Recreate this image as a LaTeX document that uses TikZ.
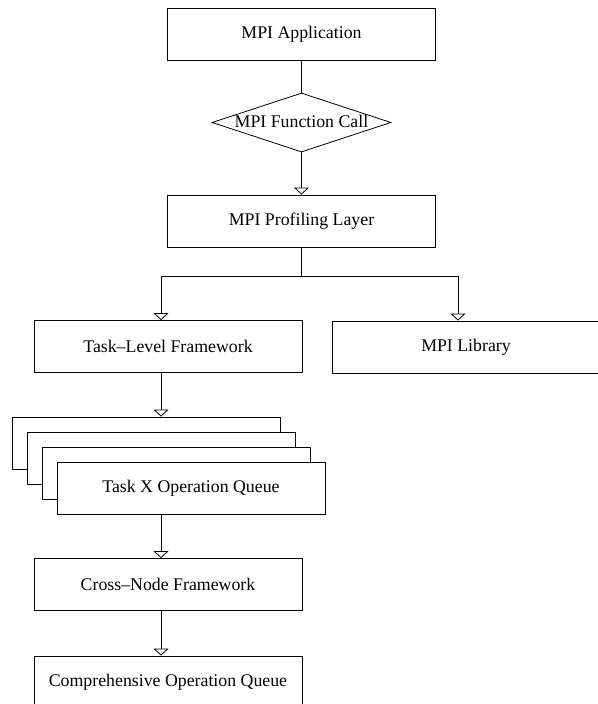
\documentclass[tikz,border=0pt]{standalone}
\usepackage{fontspec}
\setmainfont{Liberation Serif}
\usetikzlibrary{arrows.meta,shapes.geometric}

\tikzset{
    box/.style={draw, fill=white, line width=0.8pt, minimum width=268pt,
        minimum height=52pt, inner sep=0pt},
    decision/.style={draw, diamond, line width=0.8pt, minimum width=179pt,
        minimum height=59pt, inner sep=0pt},
    flow/.style={line width=0.8pt, -{Triangle[open, width=15pt, length=7pt]}},
    every node/.style={font=\fontsize{17.8}{21}\selectfont}
}

\begin{document}
\begin{tikzpicture}[x=1pt, y=-1pt]
    \useasboundingbox (0,0) rectangle (597,704);

    % top of the stack
    \node [box] (app) at (301.5,34.5) {MPI Application};
    \node [decision] (call) at (301.5,122.5) {};
    \node at (301.5,121.5) {MPI Function Call};
    \node [box] (prof) at (301.5,221) {MPI Profiling Layer};

    \draw [line width=0.8pt] (app) -- (call);
    \draw [flow] (call) -- (prof);

    % the two branches
    \node [box] (tl) at (168,346.5) {Task--Level Framework};
    \node [box] (lib) at (466,347) {MPI Library};
    \coordinate (split) at (301.5,276);
    \coordinate (spine) at (161,0);

    \draw [line width=0.8pt] (prof) -- (split);
    \draw [flow] (split) -| (tl.north -| spine);
    \draw [flow] (split) -| ([xshift=-8]lib.north);

    % one queue per task
    \foreach \i in {0,1,2} {
        \node [box] (q\i) at (146+15*\i,443+15*\i) {};
    }
    \node [box] (q3) at (191,488) {Task X Operation Queue};

    \draw [flow] (tl.south -| spine) -- (q0.north -| spine);

    % merged over all nodes
    \node [box] (cross) at (168,584.5) {Cross--Node Framework};
    \node [box] (comp) at (168,682) {Comprehensive Operation Queue};

    \draw [flow] (q3.south -| spine) -- (cross.north -| spine);
    \draw [flow] (cross.south -| spine) -- (comp.north -| spine);
\end{tikzpicture}
\end{document}
